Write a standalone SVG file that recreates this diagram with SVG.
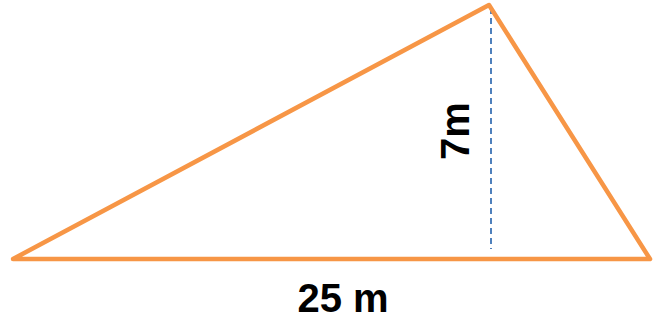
<svg xmlns="http://www.w3.org/2000/svg" width="665" height="326" viewBox="0 0 665 326">
<style>
.edge{fill:none;stroke:#F79646;stroke-width:4.5;stroke-linejoin:round;stroke-linecap:round}
.h{stroke:#4F81BD;stroke-width:2;stroke-dasharray:6,4;fill:none}
.lbl{font-family:"Liberation Sans",Arial,sans-serif;font-weight:bold;font-size:40px;fill:#000;text-anchor:middle}
</style>
<rect width="665" height="326" fill="#fff"/>
<g id="connectors">
<line class="h" x1="491" y1="8" x2="491" y2="249"/>
</g>
<g id="triangle">
<polygon class="edge" points="13,259 489,5 650,259"/>
</g>
<g id="label-height">
<text class="lbl" transform="translate(469,131) rotate(-90)">7m</text>
</g>
<g id="label-base">
<text class="lbl" x="343" y="312">25 m</text>
</g>
</svg>
